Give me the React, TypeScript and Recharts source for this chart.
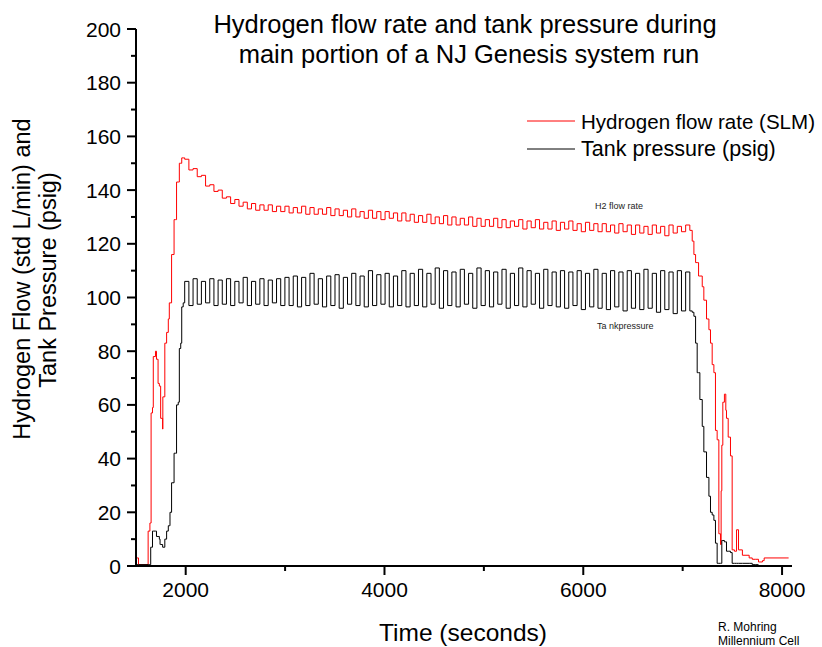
import React from "react";
import { LineChart, Line, XAxis, YAxis } from "recharts";

// start-up ramp (seconds, SLM, psig)
const startupTime = [
  1500, 1525, 1622, 1640, 1648, 1652, 1666, 1674, 1696, 1706,
  1722, 1735, 1742, 1748, 1768, 1770, 1790, 1808, 1825, 1835,
  1842, 1858, 1872, 1883, 1897, 1908, 1925, 1936, 1950, 1960,
  1975,
];
const startupFlow = [
  3, 0.5, 13, 16, 16, 57, 59, 78, 80, 77,
  68, 67, 67, 55, 51, 63, 83, 87, 92, 98,
  98, 116, 116, 129, 129, 143, 143, 150, 150, 152,
  152,
];
const startupPressure = [
  0.5, 0.5, 0.5, 0.5, 7, 7, 13, 13, 13, 11,
  11, 10, 8, 8, 7, 7, 10, 13, 15, 15,
  20, 31, 31, 42, 42, 60, 61, 81, 83, 96.5,
  98,
];

// main run, tank cycling
const runTime = [
  1990, 2032, 2074, 2116, 2158, 2200, 2242, 2284, 2326, 2368,
  2410, 2452, 2494, 2536, 2578, 2620, 2662, 2704, 2746, 2788,
  2830, 2872, 2914, 2956, 2998, 3040, 3082, 3124, 3166, 3208,
  3250, 3292, 3334, 3376, 3418, 3460, 3502, 3544, 3586, 3628,
  3670, 3712, 3754, 3796, 3838, 3880, 3922, 3964, 4006, 4048,
  4090, 4132, 4174, 4216, 4258, 4300, 4342, 4384, 4426, 4468,
  4510, 4552, 4594, 4636, 4678, 4720, 4762, 4804, 4846, 4888,
  4930, 4972, 5014, 5056, 5098, 5140, 5182, 5224, 5266, 5308,
  5350, 5392, 5434, 5476, 5518, 5560, 5602, 5644, 5686, 5728,
  5770, 5812, 5854, 5896, 5938, 5980, 6022, 6064, 6106, 6148,
  6190, 6232, 6274, 6316, 6358, 6400, 6442, 6484, 6526, 6568,
  6610, 6652, 6694, 6736, 6778, 6820, 6862, 6904, 6946, 6988,
  7030, 7072,
];
const runFlow = [
  151.5, 147.5, 148, 145, 145.5, 141.5, 142, 139.5, 140, 137,
  137.5, 135, 136.5, 134, 135.5, 133, 135, 132.5, 134.5, 132.5,
  134.5, 132, 134, 132, 134, 131.5, 133.5, 131.5, 134, 131,
  133.5, 131, 133, 131, 133.5, 130.5, 133, 130.5, 132.5, 130,
  133, 130, 132, 129.5, 132.5, 129.5, 132, 129, 132, 129.5,
  131.5, 128.5, 131.5, 128.5, 131, 128, 130.5, 128, 131, 127.5,
  130, 127.5, 130.5, 127, 130, 127, 129.5, 127, 130, 126.5,
  129.5, 126.5, 129, 126.5, 129.5, 126, 129, 126, 128.5, 126.5,
  129, 125.5, 128.5, 126, 129, 125.5, 128, 125.5, 128.5, 125,
  128, 125.5, 128.5, 125, 127.5, 124.5, 128, 125, 127.5, 124.5,
  127.5, 124.5, 127, 124, 127.5, 124.5, 127, 123.5, 127, 124,
  126.5, 123.5, 127, 124, 126.5, 123, 127, 124, 126.5, 124.5,
  127, 125,
];
const runPressure = [
  106, 97, 107, 97.5, 106, 98, 107, 97, 106.5, 97.5,
  107, 97, 106, 98, 107.5, 97, 106, 97.5, 107, 97,
  106.5, 98, 107, 97, 107.5, 97, 108, 96.5, 107.5, 97,
  109, 97.5, 107, 96.5, 108, 97, 108.5, 96, 107.5, 97.5,
  109, 97, 108, 96.5, 110, 97, 108.5, 97.5, 109, 96.5,
  108, 97, 110, 96.5, 109, 97, 110.5, 96.5, 109, 97.5,
  111, 96, 110, 97, 109.5, 96.5, 110.5, 97.5, 109, 96,
  111, 97, 110, 96.5, 109.5, 97.5, 110.5, 96, 109, 97,
  111, 96.5, 110, 97.5, 109, 96, 110.5, 97, 109.5, 96.5,
  110, 96, 109.5, 97, 110, 95.5, 109, 96.5, 110.5, 96,
  109, 95.5, 110, 96.5, 109.5, 95, 110, 96, 109, 95.5,
  110.5, 96, 109, 94.5, 110, 95.5, 109.5, 94, 110, 95,
  109.5, 95,
];

// shut-down
const shutdownTime = [
  7096, 7113, 7130, 7146, 7160, 7173, 7197, 7213, 7240, 7264,
  7280, 7297, 7314, 7330, 7347, 7364, 7381, 7387, 7394, 7404,
  7420, 7434, 7441, 7458, 7481, 7498, 7521, 7542, 7562, 7601,
  7669, 7700, 7736, 7763, 7770, 7803, 7820, 8040, 8066,
];
const shutdownFlow = [
  121, 116, 113, 113, 108, 108, 104, 99, 92, 88,
  83, 75, 72, 50.5, 47, 12, 8, 28, 45, 61,
  64, 58, 55, 48, 41, 6, 5.5, 13.5, 6, 4,
  3, 2.5, 2.5, 1.5, 1.5, 2, 3, 3, 3,
];
const shutdownPressure = [
  94.5, 93, 83, 72, 72, 62, 52, 42.5, 33, 26,
  20, 19, 17, 8.5, 1, 1, 1, 1, 9.5, 9.5,
  9, 9, 5.5, 5.5, 5, 1, 1, 1, 1, 1,
  1, 0.5, 0.5, 0.5, null, null, null, null, null,
];

const xTicks = [2000, 3000, 4000, 5000, 6000, 7000, 8000];
const yTicks = [0, 10, 20, 30, 40, 50, 60, 70, 80, 90, 100, 110, 120, 130, 140, 150, 160, 170, 180, 190, 200];
const flowName = "Hydrogen flow rate (SLM)";
const pressureName = "Tank pressure (psig)";

const time = [...startupTime, ...runTime, ...shutdownTime];
const flow = [...startupFlow, ...runFlow, ...shutdownFlow];
const pressure = [...startupPressure, ...runPressure, ...shutdownPressure];
const data = time.map((t, i) => ({ t, flow: flow[i], pressure: pressure[i] }));

const FONT = "'Liberation Sans', Arial, sans-serif";

// tickSize 5 + tickMargin 8 -> axis line is at x + 13
const YTick = (props: any) => {
  const { x, y, payload } = props;
  const v = payload.value;
  if (v % 20 !== 0) return <g />;
  return (
    <g>
      <line x1={x + 4} y1={y} x2={x + 8} y2={y} stroke="#000" strokeWidth={2} />
      <text x={x - 2} y={y} textAnchor="end" dominantBaseline="central" fontSize={21} fill="#000" fontFamily={FONT}>
        {v}
      </text>
    </g>
  );
};

// tickSize 5 + tickMargin 9 -> axis line is at y - 14
const XTick = (props: any) => {
  const { x, y, payload } = props;
  const v = payload.value;
  if (v % 2000 !== 0) return <g />;
  return (
    <g>
      <line x1={x} y1={y - 9} x2={x} y2={y - 5} stroke="#000" strokeWidth={2} />
      <text x={x} y={y + 2} dy="0.72em" textAnchor="middle" fontSize={21} fill="#000" fontFamily={FONT}>
        {v}
      </text>
    </g>
  );
};

export default function App() {
  return (
    <div
      style={{
        position: "relative",
        width: 822,
        height: 647,
        overflow: "hidden",
        fontFamily: FONT,
        background: "#fff",
      }}
    >
      <style>{"html, body { margin: 0; padding: 0; overflow: hidden; }"}</style>
      <LineChart
        width={822}
        height={647}
        data={data}
        margin={{ top: 29, right: 30, left: 76, bottom: 51 }}
      >
        <XAxis
          dataKey="t"
          type="number"
          domain={[1500, 8100]}
          ticks={xTicks}
          height={30}
          tickSize={5}
          tickMargin={9}
          tick={<XTick />}
          axisLine={{ stroke: "#000", strokeWidth: 2 }}
          tickLine={{ stroke: "#000", strokeWidth: 2 }}
          allowDataOverflow
        />
        <YAxis
          type="number"
          domain={[0, 200]}
          ticks={yTicks}
          width={60}
          tickSize={5}
          tickMargin={8}
          tick={<YTick />}
          axisLine={{ stroke: "#000", strokeWidth: 2 }}
          tickLine={{ stroke: "#000", strokeWidth: 2 }}
          interval={0}
        />
        <Line
          type="stepAfter"
          dataKey="flow"
          name={flowName}
          stroke="#ff0000"
          strokeWidth={1}
          dot={false}
          isAnimationActive={false}
        />
        <Line
          type="stepAfter"
          dataKey="pressure"
          name={pressureName}
          stroke="#000000"
          strokeWidth={1}
          dot={false}
          isAnimationActive={false}
        />
      </LineChart>
      <svg
        width={822}
        height={647}
        style={{ position: "absolute", left: 0, top: 0, pointerEvents: "none" }}
        fontFamily={FONT}
      >
        <text x={465} y={33} textAnchor="middle" fontSize={25.5} fill="#000">
          Hydrogen flow rate and tank pressure during
        </text>
        <text x={469} y={63} textAnchor="middle" fontSize={25.5} fill="#000">
          main portion of a NJ Genesis system run
        </text>
        <text x={22} y={279} transform="rotate(-90 22 279)" textAnchor="middle" dominantBaseline="central" fontSize={23.5} fill="#000">
          Hydrogen Flow (std L/min) and
        </text>
        <text x={48} y={280} transform="rotate(-90 48 280)" textAnchor="middle" dominantBaseline="central" fontSize={23.5} fill="#000">
          Tank Pressure (psig)
        </text>
        <text x={463} y={632} textAnchor="middle" dominantBaseline="central" fontSize={24.5} fill="#000">
          Time (seconds)
        </text>
        <line x1={527} y1={121} x2={575} y2={121} stroke="#ff0000" strokeWidth={1} />
        <text x={581} y={121} dominantBaseline="central" fontSize={20.5} fill="#000" textLength={234} lengthAdjust="spacingAndGlyphs">
          {flowName}
        </text>
        <line x1={527} y1={149} x2={575} y2={149} stroke="#000" strokeWidth={1} />
        <text x={581} y={149} dominantBaseline="central" fontSize={21.5} fill="#000">{pressureName}</text>
        <text x={595} y={206} dominantBaseline="central" fontSize={9} fill="#222">H2 flow rate</text>
        <text x={597} y={326} dominantBaseline="central" fontSize={9} fill="#222">Ta nkpressure</text>
        <text x={718} y={627} dominantBaseline="central" fontSize={12} fill="#000">R. Mohring</text>
        <text x={718} y={641} dominantBaseline="central" fontSize={12} fill="#000">Millennium Cell</text>
      </svg>
    </div>
  );
}
